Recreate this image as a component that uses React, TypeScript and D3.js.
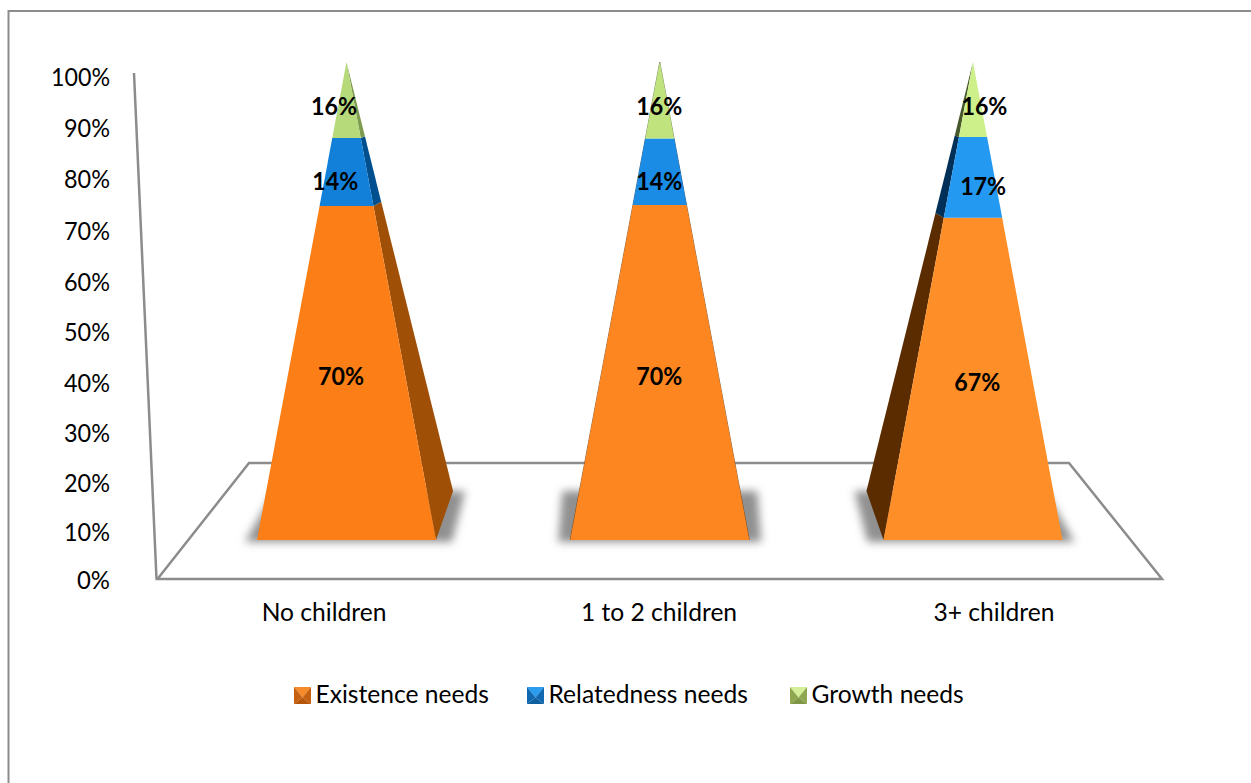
import React from "react";
import * as d3 from "d3";

const categories = ["No children", "1 to 2 children", "3+ children"];
const seriesNames = ["Existence needs", "Relatedness needs", "Growth needs"];
const existence = [69.9, 70.1, 67.4];
const relatedness = [14.2, 13.9, 16.9];
const growth = [15.9, 16.0, 15.7];
const yTicks = [0, 10, 20, 30, 40, 50, 60, 70, 80, 90, 100];
const faceColors = [
  ["#fb7f16", "#fd8620", "#fe8f28"],
  ["#1280d8", "#1a8ce6", "#2499f1"],
  ["#b6d97a", "#c0e37e", "#cdf08a"],
];
const sideColors = [
  ["#a04f06", "#7a3c04", "#5a2c00"],
  ["#00508f", "#003f70", "#002f58"],
  ["#7e9c50", "#60783c", "#47582a"],
];
const legendLight = ["#f58a2a", "#2b9cee", "#d5ef98"];
const legendMid = ["#c4600f", "#1068b0", "#8fa84f"];
const legendDark = ["#b5560b", "#0e5f9f", "#7f9646"];

const W = 1251, H = 783;
const font = "Lato, Carlito, Calibri, sans-serif";
const grey = "#8c8c8c";

const cx = d3.scalePoint<string>().domain(categories).range([346.5, 973]);
const labelCx = d3.scalePoint<string>().domain(categories).range([324, 994]);
const midX = (cx(categories[0])! + cx(categories[2])!) / 2;
const frontY = d3.scaleLinear().domain([0, 1]).range([540, 62]);
const backY = d3.scalePow().exponent(1.1).domain([0, 1]).range([491, 62]);
const axisY = d3.scalePow().exponent(1.026).domain([0, 100]).range([580, 77]);
const halfBase = 89.5;
const depth = 0.0545;
const labelDy = [12.5, 18, 15];

type P = [number, number];
const line = d3.line<P>().curve(d3.curveLinearClosed);
const pctLen = (s: string) => (s.length - 1) * 13 + 20;

export default function App() {
  const series = [existence, relatedness, growth];
  return (
    <svg width={W} height={H} viewBox={`0 0 ${W} ${H}`}
      style={{ position: "absolute", left: 0, top: 0, background: "#fff", fontFamily: font }}>
      <defs>
        <filter id="blur" x="-20%" y="-40%" width="140%" height="180%">
          <feGaussianBlur stdDeviation="4.5" />
        </filter>
      </defs>

      <path d={`M8.5,${H} V11 H${W}`} fill="none" stroke={grey} strokeWidth={2} />

      <path d="M134,73 L156.5,579" fill="none" stroke={grey} strokeWidth={2.5} />
      <path d="M157.5,579 L249,463 H1069 L1162,579 Z" fill="none" stroke={grey} strokeWidth={2.5} />

      {yTicks.map((t) => {
        const s = `${t}%`;
        return (
          <text key={t} x={110} y={axisY(t) + 8.5} textAnchor="end" fontSize={25} textLength={pctLen(s)} lengthAdjust="spacingAndGlyphs" fill="#000">{s}</text>
        );
      })}
      {categories.map((c) => (
        <text key={c} x={labelCx(c)!} y={621} textAnchor="middle" fontSize={24.6} fill="#000">{c}</text>
      ))}

      {categories.map((c, i) => {
        const x0 = cx(c)!;
        const apex: P = [x0, 62];
        const dir = midX - x0;
        const off = dir * depth;
        const edgeSide = dir > 0 ? 1 : -1;
        const shadow: P[] = [
          [x0 - halfBase - (dir < 0 ? 16 : 12), 542],
          [x0 + halfBase + (dir > 0 ? 16 : 12), 542],
          [x0 + halfBase + off + (dir > 0 ? 12 : dir === 0 ? 8 : 0), 491],
          [x0 - halfBase + off - (dir < 0 ? 12 : dir === 0 ? 8 : 0), 491],
        ];
        const frontL = (t: number): P => [x0 - halfBase + (apex[0] - x0 + halfBase) * t, frontY(t)];
        const frontR = (t: number): P => [x0 + halfBase + (apex[0] - x0 - halfBase) * t, frontY(t)];
        const back = (t: number): P => {
          const y = backY(t);
          const f = (491 - y) / (491 - 62);
          const bx = x0 + edgeSide * halfBase + off;
          return [bx + (apex[0] - bx) * f, y];
        };
        const edge = edgeSide > 0 ? frontR : frontL;
        let cum = 0;
        const segs = series.map((s, k) => {
          const t0 = cum / 100;
          cum += s[i];
          return { k, t0, t1: Math.min(cum / 100, 1) };
        });
        return (
          <g key={c}>
            <path d={line(shadow)!} fill="#909090" filter="url(#blur)" />
            {segs.map(({ k, t0, t1 }) => (
              <g key={k}>
                {dir !== 0 ? (
                  <path d={line([edge(t0), back(t0), back(t1), edge(t1)])!} fill={sideColors[k][i]} />
                ) : (
                  <path d={`M${frontL(t0)}L${frontL(t1)}M${frontR(t0)}L${frontR(t1)}`} fill="none" stroke={sideColors[k][i]} strokeWidth={0.8} />
                )}
                <path d={line([frontL(t0), frontR(t0), frontR(t1), frontL(t1)])!} fill={faceColors[k][i]} />
              </g>
            ))}
          </g>
        );
      })}

      {categories.map((c, i) => {
        const x0 = cx(c)!;
        let cum = 0;
        return series.map((s, k) => {
          const t0 = cum / 100;
          cum += s[i];
          const tm = (t0 + cum / 100) / 2;
          const x = x0 - ((midX - x0) / 313) * 14 * Math.min(tm, 0.85) - 0.5;
          const str = `${Math.round(s[i])}%`;
          return (
            <text key={`${c}${k}`} x={x} y={frontY(tm) + labelDy[k]} textAnchor="middle" fontSize={25} fontWeight={700} textLength={46} lengthAdjust="spacingAndGlyphs" fill="#000">
              {str}
            </text>
          );
        });
      })}

      {seriesNames.map((n, i) => {
        const lx = [294, 527, 790][i];
        const y0 = 687, s = 17;
        const c: P = [lx + s / 2, y0 + s * 0.62];
        const tl: P = [lx, y0], tr: P = [lx + s, y0], bl: P = [lx, y0 + s], br: P = [lx + s, y0 + s];
        return (
          <g key={n}>
            <path d={line([tl, tr, c])!} fill={legendLight[i]} />
            <path d={line([tl, c, bl])!} fill={legendMid[i]} />
            <path d={line([tr, br, c])!} fill={legendMid[i]} />
            <path d={line([bl, c, br])!} fill={legendDark[i]} />
            <text x={lx + 21.5} y={703} fontSize={24.6} fill="#000">{n}</text>
          </g>
        );
      })}
    </svg>
  );
}
